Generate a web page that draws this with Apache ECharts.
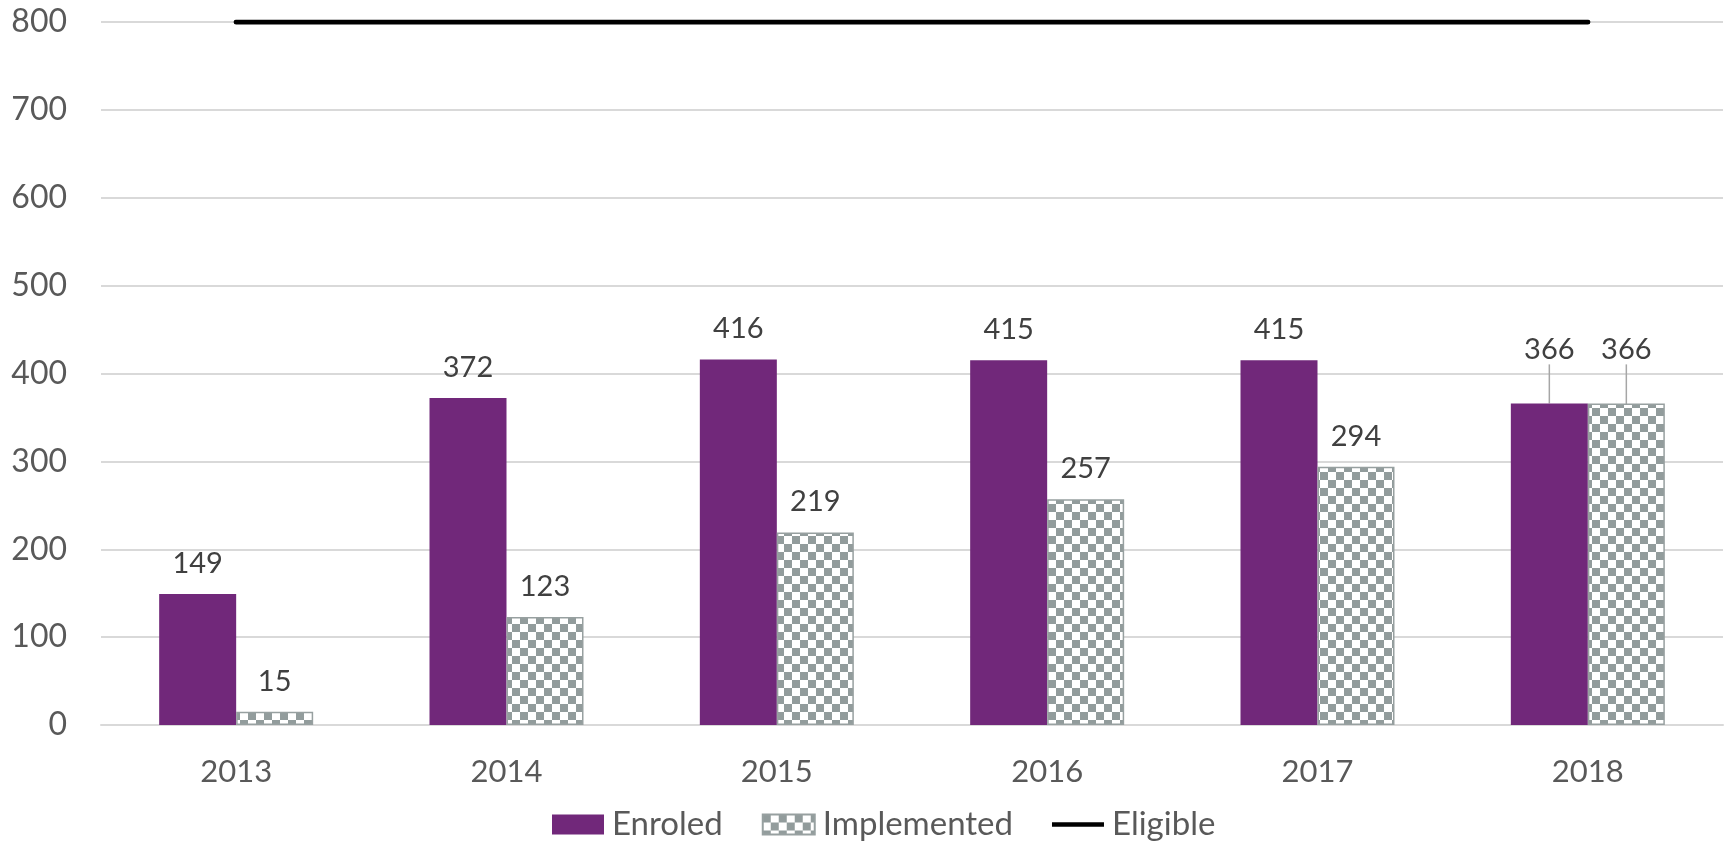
<!DOCTYPE html>
<html>
<head>
<meta charset="utf-8">
<script src="https://cdn.jsdelivr.net/npm/echarts@6/dist/echarts.min.js"></script>
<style>
  html, body { margin: 0; padding: 0; background: #ffffff; }
  #chart { width: 1725px; height: 842px; }
</style>
</head>
<body>
<div id="chart"></div>
<script>
// Programme participation by year
const years = ['2013', '2014', '2015', '2016', '2017', '2018'];
const enroled = [149, 372, 416, 415, 415, 366];
const implemented = [15, 123, 219, 257, 294, 366];
const eligible = [800, 800, 800, 800, 800, 800];
const yTicks = { min: 0, max: 800, step: 100 };

// Checkerboard fill for the "Implemented" bars
function checkerPattern(size, fg, bg) {
  const c = document.createElement('canvas');
  c.width = size * 2;
  c.height = size * 2;
  const ctx = c.getContext('2d');
  ctx.fillStyle = bg;
  ctx.fillRect(0, 0, size * 2, size * 2);
  ctx.fillStyle = fg;
  ctx.fillRect(0, 0, size, size);
  ctx.fillRect(size, size, size, size);
  return c;
}
const checker = checkerPattern(8, '#929c9c', '#ffffff');

const FONT = 'Lato, "Open Sans", sans-serif';
const lastIdx = years.length - 1;

// The final year's labels sit higher, joined to their bars by a leader line
function withLeader(values) {
  return values.map((v, i) => i === lastIdx
    ? { value: v, labelLine: { show: true } }
    : v);
}

const valueLabel = {
  show: true,
  position: 'top',
  distance: 16,
  color: '#404040',
  fontSize: 29,
  fontFamily: FONT
};
const leaderLine = { show: false, lineStyle: { color: '#a6a6a6', width: 1.5 } };
const raiseLast = function (p) {
  return p.dataIndex === lastIdx ? { dy: -23 } : {};
};

const chart = echarts.init(document.getElementById('chart'), null, { renderer: 'canvas' });

chart.setOption({
  animation: false,
  backgroundColor: '#ffffff',
  textStyle: { fontFamily: FONT },
  grid: { left: 101, right: 2, top: 22, bottom: 117, containLabel: false },
  xAxis: {
    type: 'category',
    data: years,
    boundaryGap: true,
    axisTick: { show: false },
    axisLine: { lineStyle: { color: '#d9d9d9', width: 2 } },
    axisLabel: { color: '#595959', fontSize: 31, fontFamily: FONT, margin: 31 }
  },
  yAxis: {
    type: 'value',
    min: yTicks.min,
    max: yTicks.max,
    interval: yTicks.step,
    axisLine: { show: false },
    axisTick: { show: false },
    splitLine: { lineStyle: { color: '#d9d9d9', width: 2 } },
    axisLabel: { color: '#595959', fontSize: 32, fontFamily: FONT, margin: 34 }
  },
  legend: {
    top: 803,
    left: 547,
    itemWidth: 52,
    itemHeight: 20,
    itemGap: 39,
    textStyle: { color: '#595959', fontSize: 33, fontFamily: FONT, padding: [0, 0, 0, 3] },
    data: [
      { name: 'Enroled', icon: 'rect' },
      { name: 'Implemented', icon: 'rect' },
      { name: 'Eligible', icon: 'path://M0,0 L57,0 L57,5 L0,5 Z', itemStyle: { color: '#000000' } }
    ]
  },
  series: [
    {
      name: 'Enroled',
      type: 'bar',
      data: withLeader(enroled),
      barWidth: 77,
      barGap: '0%',
      itemStyle: { color: '#71287a' },
      label: valueLabel,
      labelLine: leaderLine,
      labelLayout: raiseLast
    },
    {
      name: 'Implemented',
      type: 'bar',
      data: withLeader(implemented),
      barWidth: 77,
      barGap: '0%',
      itemStyle: {
        color: { image: checker, repeat: 'repeat' },
        borderColor: '#97a0a0',
        borderWidth: 1.5
      },
      label: valueLabel,
      labelLine: leaderLine,
      labelLayout: raiseLast
    },
    {
      name: 'Eligible',
      type: 'line',
      data: eligible,
      symbol: 'none',
      lineStyle: { color: '#000000', width: 5, cap: 'round' },
      itemStyle: { color: '#000000' },
      z: 5
    }
  ]
});
</script>
</body>
</html>
